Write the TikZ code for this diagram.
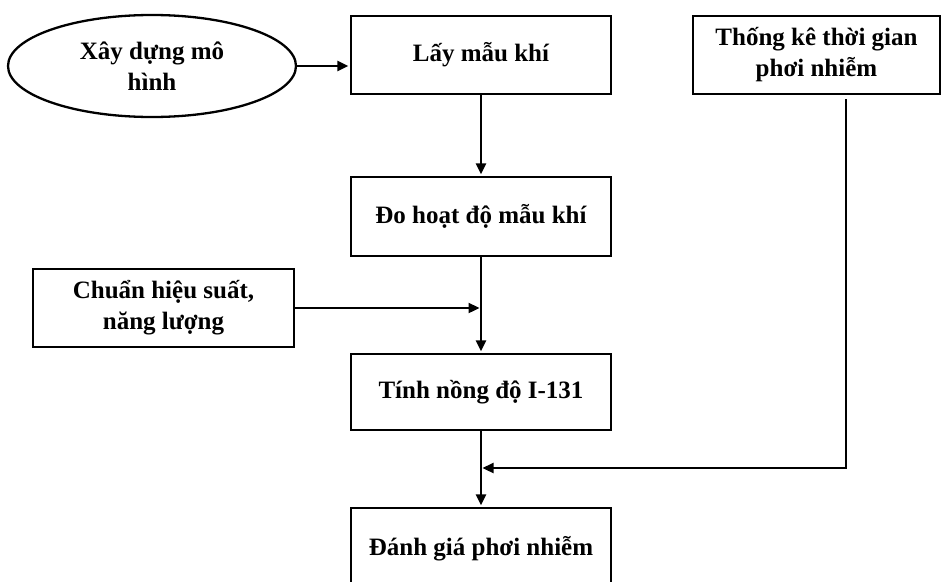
\documentclass[tikz,border=0pt]{standalone}
\usepackage{fontspec}
\setmainfont{Liberation Serif}
\usetikzlibrary{arrows.meta,shapes.geometric}
\begin{document}
\begin{tikzpicture}[x=1pt,y=-1pt,
  every node/.style={font=\bfseries\fontsize{25}{31}\selectfont, align=center, inner sep=0pt},
  box/.style={draw, line width=2.3pt, rectangle, minimum height=78pt},
  oval/.style={draw, line width=2.3pt, ellipse, minimum width=288pt, minimum height=102pt},
  conn/.style={line width=2.3pt, -{Triangle[length=11pt,width=10pt]}, shorten >=1.5pt},
  plain/.style={line width=2.3pt}
]
\path[use as bounding box, clip] (0,0) rectangle (942,581);
\fill[white] (0,0) rectangle (942,581);

\node[oval] (ell) at (152,66) {Xây dựng mô\\hình};
\node[box, minimum width=260pt] (b1) at (481,55) {Lấy mẫu khí};
\node[box, minimum width=247pt] (tk) at (816.5,55) {Thống kê thời gian\\phơi nhiễm};
\node[box, minimum width=260pt, minimum height=79pt] (b2) at (481,216.5) {Đo hoạt độ mẫu khí};
\node[box, minimum width=261pt] (ch) at (163.5,308) {Chuẩn hiệu suất,\\năng lượng};
\node[box, minimum width=260pt, minimum height=76pt] (b3) at (481,392) {Tính nồng độ I-131};
\node[box, minimum width=260pt, minimum height=82pt] (b4) at (481,549) {Đánh giá phơi nhiễm};

\coordinate (t1) at (846,99);
\coordinate (j) at (481,468);

\draw[conn] (ell.east) -- (ell.east -| b1.west);
\draw[conn] (b1.south) -- (b2.north);
\draw[conn] (b2.south) -- (b3.north);
\draw[conn] (ch.east) -- (ch.east -| b2.south);
\draw[conn] (t1) |- (j);
\draw[conn] (b3.south) -- (b4.north);
\end{tikzpicture}
\end{document}
